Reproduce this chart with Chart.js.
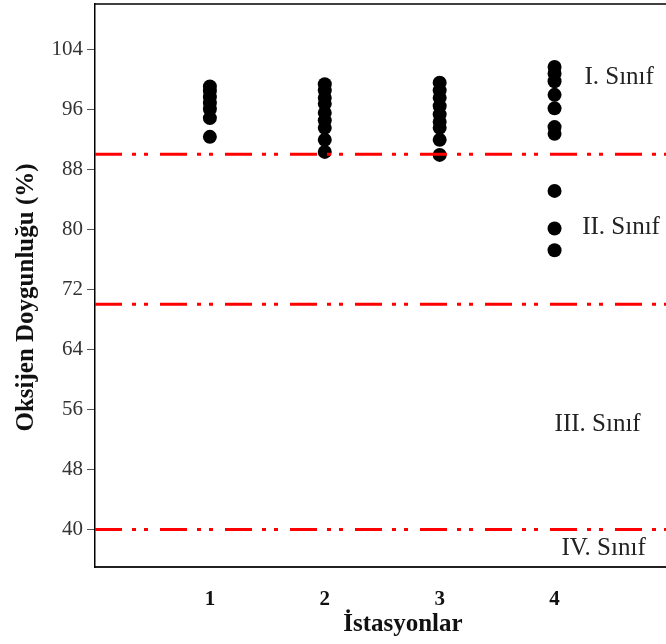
<!DOCTYPE html>
<html>
<head>
<meta charset="utf-8">
<script src="https://cdn.jsdelivr.net/npm/chart.js@4"></script>
<style>
html, body { margin: 0; padding: 0; background: #fff; overflow: hidden; }
#wrap { width: 666px; height: 644px; }
</style>
</head>
<body>
<div id="wrap"><canvas id="graf"></canvas></div>
<script>
// oxygen saturation (%) measured at each station
const stations = [1, 2, 3, 4]
const station1 = [99, 98.4, 97.6, 96.8, 96, 94.8, 92.3]
const station2 = [99.3, 98.5, 97.5, 96.7, 95.5, 94.5, 93.5, 91.9, 90.3]
const station3 = [99.5, 98.5, 97.5, 96.4, 95.3, 94.3, 93.5, 91.9, 89.9]
const station4 = [101.6, 100.7, 99.7, 97.9, 96.1, 93.6, 92.7, 85.1, 80.1, 77.2]

// water quality class limits and their names
const classLimits = [90, 70, 40]
const classNames = ['I. Sınıf', 'II. Sınıf', 'III. Sınıf', 'IV. Sınıf']
const classLabelX = [4.26, 4.24, 4.0, 4.06]
const classLabelY = [100.2, 80.2, 54.0, 37.5]

const yTicks = [40, 48, 56, 64, 72, 80, 88, 96, 104]
const yTitle = 'Oksijen Doygunluğu (%)'
const xTitle = 'İstasyonlar'

const serif = '"Liberation Serif", "Times New Roman", serif'
const xMin = 0
const xMax = 4.97

let points = []
const allStations = [station1, station2, station3, station4]
for (let i = 0; i < stations.length; i++) {
    allStations[i].forEach(v => points.push({ x: stations[i], y: v }))
}

// limit lines go first so they sit on top of the dots
let datasets = classLimits.map(lim => ({
    type: 'line',
    data: [{ x: xMin, y: lim }, { x: xMax, y: lim }],
    borderColor: '#ff0000',
    borderWidth: 3,
    borderDash: [27, 10, 4, 8, 4, 12],
    pointRadius: 0,
    fill: false
}))
datasets.push({
    type: 'scatter',
    data: points,
    backgroundColor: '#000',
    borderColor: '#000',
    pointRadius: 7,
    pointBorderWidth: 0
})

const noPad = scale => {
    scale.paddingTop = 0
    scale.paddingBottom = 0
    scale.paddingLeft = 0
    scale.paddingRight = 0
}

const extras = {
    id: 'extras',
    afterDatasetsDraw(chart) {
        const ctx = chart.ctx
        const { left, right, top } = chart.chartArea
        const xs = chart.scales.x
        const ys = chart.scales.y
        ctx.save()
        ctx.strokeStyle = '#000'
        ctx.lineWidth = 1.5
        ctx.beginPath()
        ctx.moveTo(left, top)
        ctx.lineTo(right, top)
        ctx.stroke()

        ctx.fillStyle = '#222'
        ctx.font = '25px ' + serif
        ctx.textAlign = 'left'
        ctx.textBaseline = 'middle'
        classNames.forEach((name, i) => {
            ctx.fillText(name, xs.getPixelForValue(classLabelX[i]), ys.getPixelForValue(classLabelY[i]))
        })

        // axis titles
        ctx.fillStyle = '#111'
        ctx.font = 'bold 25px ' + serif
        ctx.textAlign = 'center'
        ctx.fillText(xTitle, xs.getPixelForValue(2.68), 625)
        ctx.translate(27, ys.getPixelForValue(70.9))
        ctx.rotate(-Math.PI / 2)
        ctx.fillText(yTitle, 0, 0)
        ctx.restore()
    }
}

new Chart(document.getElementById('graf'), {
    type: 'scatter',
    data: { datasets: datasets },
    options: {
        responsive: true,
        maintainAspectRatio: false,
        animation: false,
        layout: { autoPadding: false, padding: { top: 4, right: 0, left: 0, bottom: 0 } },
        plugins: { legend: { display: false }, tooltip: { enabled: false } },
        scales: {
            x: {
                type: 'linear',
                min: xMin,
                max: xMax,
                afterBuildTicks: scale => { scale.ticks = stations.map(v => ({ value: v })) },
                afterFit: scale => { scale.height = 77; noPad(scale) },
                grid: { display: false },
                border: { display: true, color: '#222', width: 2 },
                ticks: {
                    color: '#111',
                    padding: 12,
                    font: { family: serif, size: 21, weight: 'bold' }
                }
            },
            y: {
                type: 'linear',
                min: 35,
                max: 110,
                afterBuildTicks: scale => { scale.ticks = yTicks.map(v => ({ value: v })) },
                afterFit: scale => { scale.width = 95; noPad(scale) },
                grid: { display: true, drawOnChartArea: false, drawTicks: true, tickLength: 8, color: '#555' },
                border: { display: true, color: '#000', width: 1.5 },
                ticks: {
                    color: '#333',
                    padding: 4,
                    font: { family: serif, size: 21 }
                }
            }
        }
    },
    plugins: [extras]
})
</script>
</body>
</html>
